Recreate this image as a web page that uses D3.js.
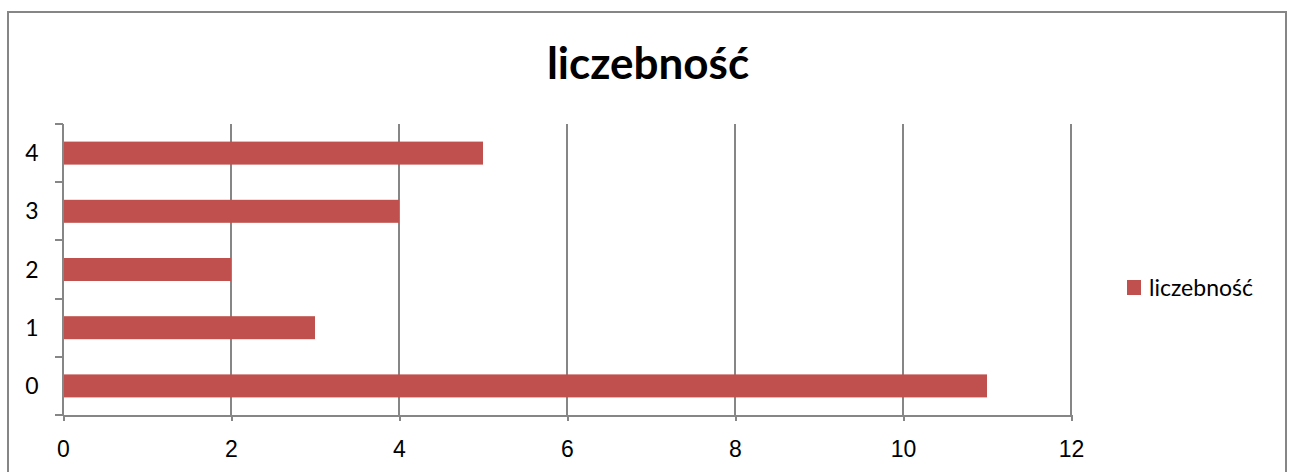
<!DOCTYPE html>
<html lang="pl">
<head>
<meta charset="utf-8">
<title>liczebność</title>
<script src="https://cdn.jsdelivr.net/npm/d3@7"></script>
<style>
  body { margin: 0; background: #fff; }
  svg { display: block; font-family: Lato, "Open Sans", sans-serif; }
  .axis path, .axis line { stroke: #868686; stroke-width: 2; shape-rendering: crispEdges; }
  .axis text { font-size: 23px; fill: #000; }
  .grid line { stroke: #868686; stroke-width: 2; shape-rendering: crispEdges; }
</style>
</head>
<body>
<svg width="1290" height="472"></svg>
<script>
var categories = ["0", "1", "2", "3", "4"];
var values = [11, 3, 2, 4, 5];
var xTicks = [0, 2, 4, 6, 8, 10, 12];
var seriesName = "liczebność";
var barColor = "#C0504D";

var svg = d3.select("svg"),
    margin = {top: 124, right: 219, bottom: 57, left: 63},
    width = 1290 - margin.left - margin.right,
    height = 472 - margin.top - margin.bottom;

// outer frame
svg.append("rect")
    .attr("x", 8).attr("y", 12)
    .attr("width", 1278).attr("height", 470)
    .attr("fill", "none").attr("stroke", "#868686").attr("stroke-width", 2);

svg.append("text")
    .attr("x", 648).attr("y", 79)
    .attr("text-anchor", "middle")
    .style("font-size", "44px").style("font-weight", "bold")
    .text(seriesName);

var g = svg.append("g").attr("transform", "translate(" + margin.left + "," + margin.top + ")");

var x = d3.scaleLinear().domain([0, 12]).range([0, width]);
var y = d3.scaleBand().domain(categories.slice().reverse()).range([0, height]);

// gridlines
g.append("g").attr("class", "grid")
  .selectAll("line").data(xTicks.slice(1)).enter().append("line")
    .attr("x1", function(d) { return x(d); })
    .attr("x2", function(d) { return x(d); })
    .attr("y1", 0).attr("y2", height);

// bars
var barH = 23;
g.selectAll(".bar").data(categories).enter().append("rect")
    .attr("class", "bar")
    .attr("x", x(0))
    .attr("y", function(d) { return y(d) + (y.bandwidth() - barH) / 2; })
    .attr("width", function(d, i) { return x(values[i]) - x(0); })
    .attr("height", barH)
    .attr("fill", barColor);

// x axis
g.append("g").attr("class", "axis")
    .attr("transform", "translate(0," + height + ")")
    .call(d3.axisBottom(x).tickValues(xTicks).tickSizeInner(6).tickSizeOuter(0).tickPadding(20));

// y axis with ticks at band boundaries
var yAxis = g.append("g").attr("class", "axis");
yAxis.append("line").attr("x1", 0).attr("x2", 0).attr("y1", 0).attr("y2", height);
yAxis.selectAll(".tk").data(d3.range(categories.length + 1)).enter().append("line")
    .attr("class", "tk")
    .attr("x1", -8).attr("x2", 0)
    .attr("y1", function(i) { return i * y.step(); })
    .attr("y2", function(i) { return i * y.step(); });
yAxis.selectAll("text").data(categories).enter().append("text")
    .attr("x", -31)
    .attr("y", function(d) { return y(d) + y.bandwidth() / 2; })
    .attr("dy", "0.35em")
    .attr("text-anchor", "middle")
    .text(function(d) { return d; });

// legend
var leg = svg.append("g").attr("transform", "translate(1127,280)");
leg.append("rect").attr("width", 14).attr("height", 15).attr("fill", barColor);
leg.append("text").attr("x", 22).attr("y", 8).attr("dy", "0.35em")
    .style("font-size", "23px").text(seriesName);
</script>
</body>
</html>
